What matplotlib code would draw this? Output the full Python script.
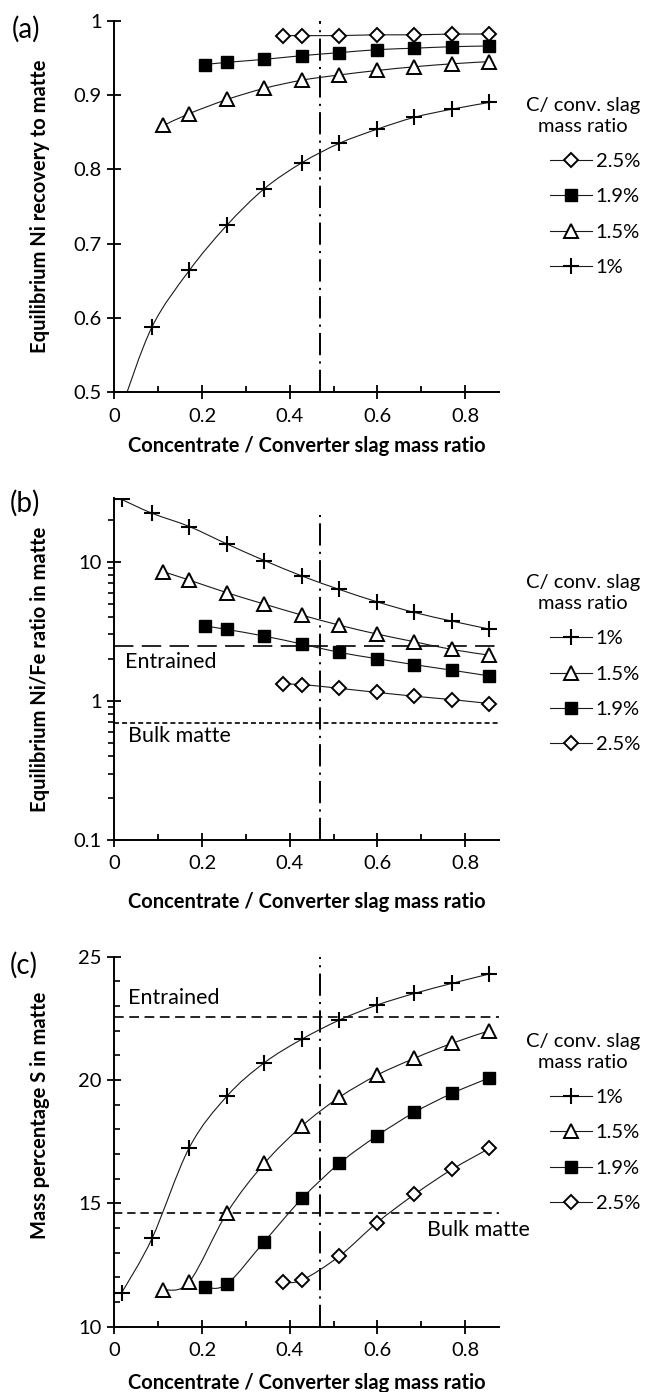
import numpy as np
import matplotlib
matplotlib.use('Agg')
import matplotlib.pyplot as plt
from matplotlib.path import Path
from matplotlib.patches import PathPatch
from matplotlib.lines import Line2D
from matplotlib.ticker import MultipleLocator, FixedLocator, FuncFormatter, NullFormatter

plt.rcParams['font.family'] = ['Lato', 'DejaVu Sans']
plt.rcParams['lines.scale_dashes'] = False

# concentrate / converter slag mass ratio for each series
x_1 = [0.017, 0.086, 0.171, 0.257, 0.342, 0.428, 0.513, 0.599, 0.684, 0.770, 0.855]
x_15 = [0.112, 0.171, 0.257, 0.342, 0.428, 0.513, 0.599, 0.684, 0.770, 0.855]
x_19 = [0.207, 0.257, 0.342, 0.428, 0.513, 0.599, 0.684, 0.770, 0.855]
x_25 = [0.384, 0.428, 0.513, 0.599, 0.684, 0.770, 0.855]

# (a) equilibrium Ni recovery to matte
rec_1 = [0.48, 0.588, 0.664, 0.725, 0.774, 0.809, 0.835, 0.854, 0.870, 0.881, 0.890]
rec_15 = [0.859, 0.875, 0.894, 0.909, 0.920, 0.927, 0.933, 0.938, 0.942, 0.945]
rec_19 = [0.941, 0.944, 0.948, 0.953, 0.957, 0.961, 0.963, 0.965, 0.966]
rec_25 = [0.980, 0.980, 0.980, 0.981, 0.981, 0.982, 0.982]

# (b) Ni/Fe ratio in matte
nife_1 = [28.0, 22.3, 17.9, 13.4, 10.2, 7.89, 6.32, 5.15, 4.32, 3.74, 3.28]
nife_15 = [8.47, 7.38, 5.98, 4.96, 4.13, 3.50, 3.02, 2.66, 2.34, 2.13]
nife_19 = [3.45, 3.26, 2.92, 2.56, 2.23, 2.01, 1.82, 1.66, 1.51]
nife_25 = [1.32, 1.31, 1.23, 1.15, 1.08, 1.02, 0.957]
nife_entrained = 2.47
nife_bulk = 0.695

# (c) mass percentage S in matte
s_1 = [11.38, 13.58, 17.26, 19.35, 20.70, 21.66, 22.43, 23.04, 23.51, 23.92, 24.30]
s_15 = [11.49, 11.82, 14.62, 16.62, 18.14, 19.30, 20.20, 20.88, 21.49, 22.00]
s_19 = [11.59, 11.73, 13.45, 15.20, 16.62, 17.74, 18.69, 19.46, 20.09]
s_25 = [11.80, 11.89, 12.86, 14.22, 15.36, 16.38, 17.23]
s_entrained = 22.57
s_bulk = 14.62

operating_ratio = 0.468

labels = ['1%', '1.5%', '1.9%', '2.5%']
styles = {
    '1%': dict(marker='+', ms=11, mfc='k', mec='k', mew=1.5),
    '1.5%': dict(marker='^', ms=10.5, mfc='white', mec='k', mew=1.4),
    '1.9%': dict(marker='s', ms=8, mfc='k', mec='k', mew=1.0),
    '2.5%': dict(marker='D', ms=6.8, mfc='white', mec='k', mew=1.4),
}

FS = 14.5


def smooth(ax, xs, ys, log=False):
    pts = np.column_stack([xs, np.log10(ys) if log else ys]).astype(float)
    n = len(pts)
    verts = [pts[0]]
    codes = [Path.MOVETO]
    for i in range(n - 1):
        p0 = pts[max(i - 1, 0)]
        p3 = pts[min(i + 2, n - 1)]
        c1 = pts[i] + (pts[i + 1] - p0) / 6
        c2 = pts[i + 1] - (p3 - pts[i]) / 6
        verts += [c1, c2, pts[i + 1]]
        codes += [Path.CURVE4] * 3
    verts = np.array(verts)
    if log:
        verts[:, 1] = 10 ** verts[:, 1]
    ax.add_patch(PathPatch(Path(verts, codes), fill=False, lw=0.8, edgecolor='#1a1a1a', zorder=2))


def draw_series(ax, xs, ys, lab, log=False):
    smooth(ax, xs, ys, log)
    ax.plot(xs, ys, ls='none', zorder=3, **styles[lab])


def handles(order):
    return [Line2D([0], [0], color='#1a1a1a', lw=0.8, **styles[l]) for l in order]


def style_axes(ax):
    for s in ['top', 'right']:
        ax.spines[s].set_visible(False)
    for s in ['left', 'bottom']:
        ax.spines[s].set_linewidth(1.4)
    ax.set_xlim(0, 0.877)
    ax.xaxis.set_major_locator(MultipleLocator(0.2))
    ax.xaxis.set_minor_locator(FixedLocator([0.1, 0.3, 0.5, 0.7]))
    ax.xaxis.set_major_formatter(FuncFormatter(lambda v, p: '%g' % round(v, 2)))
    ax.tick_params(which='major', direction='inout', length=10, width=1.3, labelsize=FS, pad=6)
    ax.tick_params(axis='x', which='minor', direction='in', length=4, width=1.3)
    ax.tick_params(axis='y', which='major', pad=4)
    ax.set_xlabel('Concentrate / Converter slag mass ratio', fontsize=14.5, fontweight='bold')
    ax.axvline(operating_ratio, color='k', lw=1.4, ls=(0, (16, 4.5, 1.5, 4.5)), zorder=1)


def legend(ax, order, height_px):
    top = 1 - 68 / height_px
    leg = ax.legend(handles(order), order, loc='upper center', bbox_to_anchor=(1.218, top),
                    frameon=False, fontsize=FS, title='C/ conv. slag\nmass ratio', title_fontsize=FS,
                    handlelength=2.05, handletextpad=0.2, labelspacing=0.9, borderaxespad=0,
                    alignment='right')
    leg.get_title().set_multialignment('center')
    leg.get_title().set_linespacing(1.3)


fig = plt.figure(figsize=(6.46, 13.92), dpi=100)
W, H = 646, 1392
left, right = 114.3 / W, 499 / W

# ---- (a)
h1 = 392.3 - 20.7
ax1 = fig.add_axes([left, 1 - 392.3 / H, right - left, h1 / H])
draw_series(ax1, x_1, rec_1, '1%')
draw_series(ax1, x_15, rec_15, '1.5%')
draw_series(ax1, x_19, rec_19, '1.9%')
draw_series(ax1, x_25, rec_25, '2.5%')
ax1.set_ylim(0.5, 1.0)
ax1.yaxis.set_major_locator(MultipleLocator(0.1))
ax1.yaxis.set_major_formatter(FuncFormatter(lambda v, p: '%g' % round(v, 2)))
style_axes(ax1)
ax1.set_ylabel('Equilibrium Ni recovery to matte', fontsize=14.5, fontweight='bold')
ax1.yaxis.set_label_coords(-0.193, 0.5)
ax1.yaxis.label.set_va('center')
ax1.xaxis.set_label_coords(0.5, -54 / h1)
ax1.xaxis.label.set_va('center')
legend(ax1, ['2.5%', '1.9%', '1.5%', '1%'], h1)

# ---- (b)
h2 = 840 - 498
ax2 = fig.add_axes([left, 1 - 840 / H, right - left, h2 / H])
ax2.set_yscale('log')
draw_series(ax2, x_1, nife_1, '1%', log=True)
draw_series(ax2, x_15, nife_15, '1.5%', log=True)
draw_series(ax2, x_19, nife_19, '1.9%', log=True)
draw_series(ax2, x_25, nife_25, '2.5%', log=True)
ax2.set_ylim(0.1, 28.7)
ax2.yaxis.set_major_locator(FixedLocator([0.1, 1, 10]))
ax2.yaxis.set_major_formatter(FuncFormatter(lambda v, p: '%g' % v))
ax2.yaxis.set_minor_formatter(NullFormatter())
style_axes(ax2)
ax2.tick_params(axis='y', which='minor', direction='out', length=4, width=1.2)
ax2.lines[-1].set_ydata([0, 0.965])
ax2.axhline(nife_entrained, color='k', lw=1.2, ls=(0, (14, 6)), zorder=1)
ax2.axhline(nife_bulk, color='k', lw=1.2, ls=(0, (3.6, 2.2)), zorder=1)
ax2.text(0.025, 1.91, 'Entrained', fontsize=15.5, va='center', ha='left')
ax2.text(0.031, 0.557, 'Bulk matte', fontsize=15.5, va='center', ha='left')
ax2.set_ylabel('Equilibrium Ni/Fe ratio in matte', fontsize=14.5, fontweight='bold')
ax2.yaxis.set_label_coords(-0.193, 0.5)
ax2.yaxis.label.set_va('center')
ax2.xaxis.set_label_coords(0.5, -61.7 / h2)
ax2.xaxis.label.set_va('center')
legend(ax2, labels, h2)

# ---- (c)
h3 = 1326.7 - 956.7
ax3 = fig.add_axes([left, 1 - 1326.7 / H, right - left, h3 / H])
draw_series(ax3, x_1, s_1, '1%')
draw_series(ax3, x_15, s_15, '1.5%')
draw_series(ax3, x_19, s_19, '1.9%')
draw_series(ax3, x_25, s_25, '2.5%')
ax3.set_ylim(10, 25)
ax3.yaxis.set_major_locator(MultipleLocator(5))
ax3.yaxis.set_minor_locator(MultipleLocator(1))
style_axes(ax3)
ax3.tick_params(axis='y', which='minor', direction='in', length=4, width=1.2)
ax3.axhline(s_entrained, color='k', lw=1.2, ls=(0, (7, 4)), zorder=1)
ax3.axhline(s_bulk, color='k', lw=1.2, ls=(0, (6, 3.5)), zorder=1)
ax3.text(0.031, 23.33, 'Entrained', fontsize=15.5, va='center', ha='left')
ax3.text(0.713, 13.92, 'Bulk matte', fontsize=15.5, va='center', ha='left', clip_on=False)
ax3.set_ylabel('Mass percentage S in matte', fontsize=14.5, fontweight='bold')
ax3.yaxis.set_label_coords(-0.193, 0.572)
ax3.yaxis.label.set_va('center')
ax3.xaxis.set_label_coords(0.5, -56 / h3)
ax3.xaxis.label.set_va('center')
legend(ax3, labels, h3)

fig.text(12 / W, 1 - 29 / H, '(a)', fontsize=20, va='center', ha='left')
fig.text(10 / W, 1 - 503 / H, '(b)', fontsize=20, va='center', ha='left')
fig.text(10 / W, 1 - 965 / H, '(c)', fontsize=20, va='center', ha='left')

fig.savefig('out.png', dpi=100)
